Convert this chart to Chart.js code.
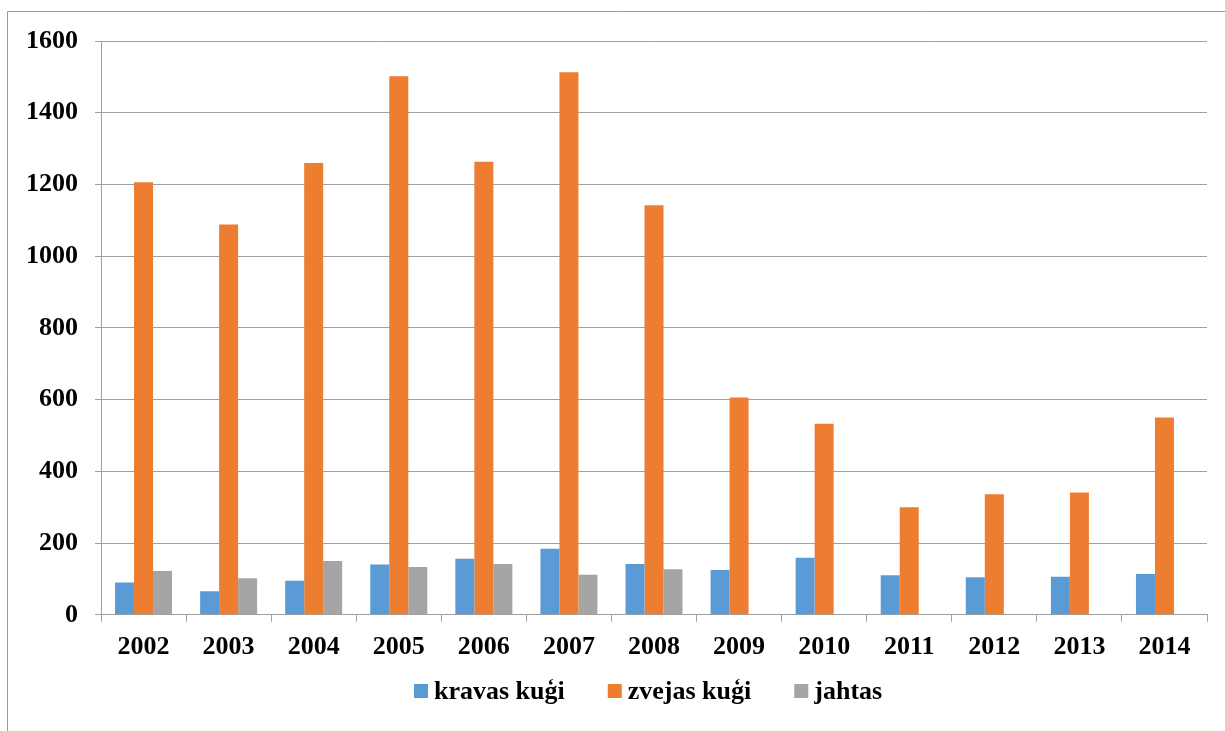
<!DOCTYPE html>
<html>
<head>
<meta charset="utf-8">
<script src="https://cdn.jsdelivr.net/npm/chart.js@4/dist/chart.umd.min.js"></script>
<style>
  html, body { margin: 0; padding: 0; background: #ffffff; }
  #wrap { position: relative; width: 1225px; height: 731px; }
  canvas { display: block; }
</style>
</head>
<body>
<div id="wrap"><canvas id="c" width="1225" height="731"></canvas></div>
<script>
// Years on the category axis
const years = ['2002', '2003', '2004', '2005', '2006', '2007', '2008',
               '2009', '2010', '2011', '2012', '2013', '2014'];

// Series names
const seriesNames = ['kravas kuģi', 'zvejas kuģi', 'jahtas'];

// Cargo ships
const kravasKugi = [90, 66, 95, 140, 156, 184, 142, 125, 159, 110, 105, 106, 114];
// Fishing vessels
const zvejasKugi = [1206, 1088, 1260, 1502, 1263, 1513, 1142, 606, 533, 300, 336, 341, 550];
// Yachts (no figures after 2008)
const jahtas = [122, 102, 150, 133, 142, 112, 127, null, null, null, null, null, null];

// Value axis ticks
const yTicks = [0, 200, 400, 600, 800, 1000, 1200, 1400, 1600];

const colors = ['#5b9bd5', '#ed7d31', '#a5a5a5'];
const fontFamily = '"Liberation Serif", "Times New Roman", serif';
const fontSize = 26;

// Thin frame around the whole figure (top and left edges visible)
const framePlugin = {
  id: 'frame',
  beforeDraw(chart) {
    const ctx = chart.ctx;
    ctx.save();
    ctx.fillStyle = '#ffffff';
    ctx.fillRect(0, 0, chart.width, chart.height);
    ctx.strokeStyle = '#9a9a9a';
    ctx.lineWidth = 1;
    ctx.beginPath();
    ctx.moveTo(7.5, chart.height);
    ctx.lineTo(7.5, 11.5);
    ctx.lineTo(chart.width, 11.5);
    ctx.stroke();
    ctx.restore();
  }
};

// Compact legend row under the chart: small square, short gap, series name
const legendRowPlugin = {
  id: 'legendRow',
  afterDraw(chart) {
    const ctx = chart.ctx;
    const box = 14, textGap = 6, itemGap = 43;
    ctx.save();
    ctx.font = 'bold ' + fontSize + 'px ' + fontFamily;
    ctx.textBaseline = 'middle';
    ctx.textAlign = 'left';
    const items = chart.data.datasets.map(ds => ({
      text: ds.label,
      color: ds.backgroundColor,
      w: box + textGap + ctx.measureText(ds.label).width
    }));
    const total = items.reduce((s, it) => s + it.w, 0) + itemGap * (items.length - 1);
    const area = chart.chartArea;
    let x = Math.round((area.left + area.right) / 2 - 6 - total / 2);
    const y = chart.height - 40;
    items.forEach(it => {
      ctx.fillStyle = it.color;
      ctx.fillRect(x, y - box / 2, box, box);
      ctx.fillStyle = '#000000';
      ctx.fillText(it.text, x + box + textGap, y + 1);
      x += it.w + itemGap;
    });
    ctx.restore();
  }
};

new Chart(document.getElementById('c'), {
  type: 'bar',
  data: {
    labels: years,
    datasets: [
      { label: seriesNames[0], data: kravasKugi, backgroundColor: colors[0] },
      { label: seriesNames[1], data: zvejasKugi, backgroundColor: colors[1] },
      { label: seriesNames[2], data: jahtas, backgroundColor: colors[2] }
    ]
  },
  options: {
    responsive: false,
    animation: false,
    devicePixelRatio: 1,
    layout: { padding: { top: 41, left: 9, right: 18, bottom: 58 } },
    datasets: {
      bar: { categoryPercentage: 0.67, barPercentage: 1.0 }
    },
    scales: {
      x: {
        offset: true,
        grid: {
          offset: true,
          drawOnChartArea: false,
          drawTicks: true,
          tickLength: 7,
          color: '#a0a0a0',
          lineWidth: 1
        },
        border: { color: '#a0a0a0', width: 1 },
        ticks: {
          color: '#000000',
          padding: 10,
          maxRotation: 0,
          font: { family: fontFamily, size: fontSize, weight: 'bold' }
        }
      },
      y: {
        min: 0,
        max: 1600,
        afterBuildTicks(axis) {
          axis.ticks = yTicks.map(v => ({ value: v }));
        },
        grid: {
          color: '#a0a0a0',
          lineWidth: 1,
          drawTicks: true,
          tickLength: 6
        },
        border: { color: '#a0a0a0', width: 1 },
        ticks: {
          color: '#000000',
          padding: 17,
          callback: v => String(v),
          font: { family: fontFamily, size: fontSize, weight: 'bold' }
        }
      }
    },
    plugins: {
      legend: { display: false },
      tooltip: { enabled: false },
      title: { display: false }
    }
  },
  plugins: [framePlugin, legendRowPlugin]
});
</script>
</body>
</html>
